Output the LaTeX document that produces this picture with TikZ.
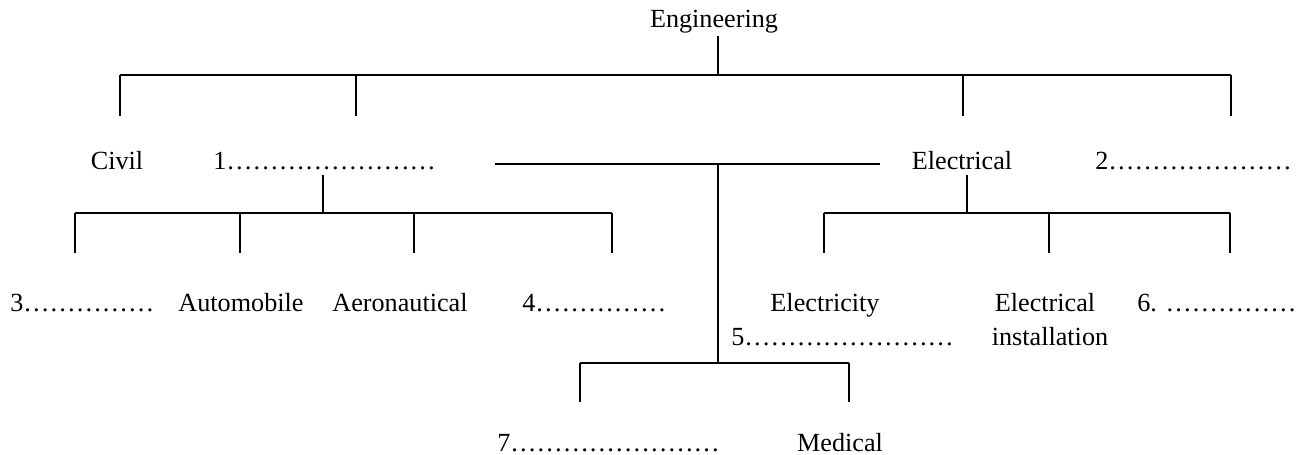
\documentclass[tikz,border=0pt]{standalone}
\usepackage{fontspec}
\setmainfont{Liberation Serif}
\usetikzlibrary{positioning}

\tikzset{
    leaf/.style={anchor=base, inner sep=0pt, font=\fontsize{14.9}{19}\selectfont},
    leafw/.style={leaf, anchor=base west},
    branch/.style={line width=1.1pt}
}

\begin{document}
\begin{tikzpicture}[x=0.02cm, y=-0.02cm]
    \useasboundingbox (0,0) rectangle (1299,455);
    % labels
    \node[leaf] (eng) at (714,28) {Engineering};
    \node[leaf] (civil) at (117,170) {Civil};
    \node[leafw] (blank1) at (213,170) {1……………………};
    \node[leaf] (electrical) at (962,170) {Electrical};
    \node[leafw] (blank2) at (1095,170) {2…………………};
    \node[leafw] (blank3) at (10,312) {3……………};
    \node[leaf] (auto) at (241,312) {Automobile};
    \node[leaf] (aero) at (400,312) {Aeronautical};
    \node[leafw] (blank4) at (522,312) {4……………};
    \node[leaf] (electricity) at (825,312) {Electricity};
    \node[leaf] (inst1) at (1045,312) {Electrical};
    \node[leaf] (inst2) at (1050,346) {installation};
    \node[leafw] (blank5) at (731,346) {5……………………};
    \node[leafw] (blank6) at (1137,312) {6. ……………};
    \node[leafw] (blank7) at (497,452) {7……………………};
    \node[leaf] (medical) at (840,452) {Medical};

    % top level
    \coordinate (eng-s) at (718,36);
    \coordinate (top) at (718,75);
    \foreach \n/\x in {civ/120, one/356, ele/963, two/1231}{
        \coordinate (top-\n) at (\x,75);
        \coordinate (end-\n) at (\x,116);
        \draw[branch] (top-\n) -- (end-\n);}
    \draw[branch] (eng-s) -- (top);
    \draw[branch] (top-civ) -- (top-two);

    % middle branch
    \coordinate (mid-l) at (495,164);
    \coordinate (mid-r) at (880,164);
    \coordinate (mid) at (718,164);
    \coordinate (low) at (718,363);
    \draw[branch] (mid-l) -- (mid-r);
    \draw[branch] (mid) -- (low);
    \foreach \n/\x in {sev/580, med/849}{
        \coordinate (low-\n) at (\x,363);
        \coordinate (lowend-\n) at (\x,402);
        \draw[branch] (low-\n) -- (lowend-\n);}
    \draw[branch] (low-sev) -- (low-med);

    % under 1
    \coordinate (one-s) at (323,175);
    \coordinate (one-j) at (323,213);
    \draw[branch] (one-s) -- (one-j);
    \foreach \n/\x in {thr/75, aut/240, aer/414, fou/612}{
        \coordinate (lb-\n) at (\x,213);
        \coordinate (lbend-\n) at (\x,253);
        \draw[branch] (lb-\n) -- (lbend-\n);}
    \draw[branch] (lb-thr) -- (lb-fou);

    % under Electrical
    \coordinate (ele-s) at (967,175);
    \coordinate (ele-j) at (967,213);
    \draw[branch] (ele-s) -- (ele-j);
    \foreach \n/\x in {ety/824, ins/1049, six/1230}{
        \coordinate (rb-\n) at (\x,213);
        \coordinate (rbend-\n) at (\x,253);
        \draw[branch] (rb-\n) -- (rbend-\n);}
    \draw[branch] (rb-ety) -- (rb-six);
\end{tikzpicture}
\end{document}
